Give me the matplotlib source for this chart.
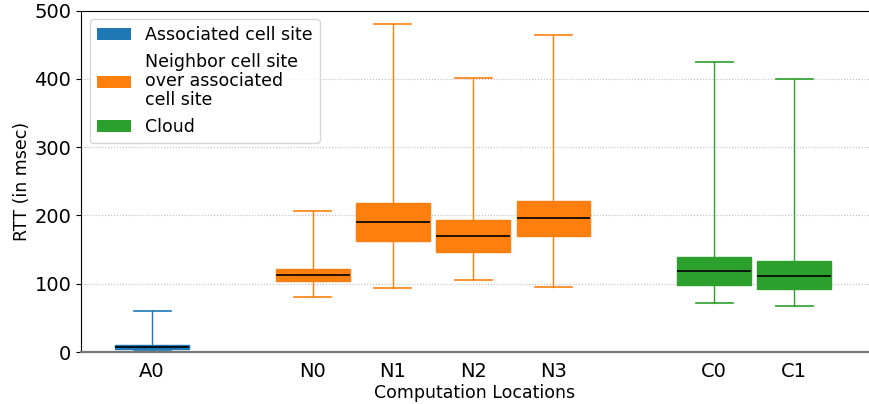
import matplotlib
matplotlib.use("Agg")
import matplotlib.pyplot as plt
from matplotlib.patches import Patch

# Computation locations and their RTT distribution summaries (msec)
locations = ["A0", "N0", "N1", "N2", "N3", "C0", "C1"]
groups = ["A", "N", "N", "N", "N", "C", "C"]
positions = [0, 2, 3, 4, 5, 7, 8]
whisker_low = [3, 81, 94, 105, 95, 72, 67]
q1 = [4.5, 104.5, 162.5, 147, 170, 98.5, 92]
median = [7.8, 112.7, 190, 170, 196, 118, 111.7]
q3 = [9.8, 121.5, 218.5, 193, 221.5, 139, 132.8]
whisker_high = [60, 207, 480, 401, 465, 424.5, 400]

group_colors = {"A": "#1f77b4", "N": "#ff7f0e", "C": "#2ca02c"}
group_labels = {
    "A": "Associated cell site",
    "N": "Neighbor cell site\nover associated\ncell site",
    "C": "Cloud",
}

fig = plt.figure(figsize=(8.69, 4.04), dpi=100)
ax = fig.add_axes([0.0932, 0.1287, 0.9068, 0.845])

stats = []
for i, name in enumerate(locations):
    stats.append(dict(label=name, whislo=whisker_low[i], q1=q1[i], med=median[i],
                      q3=q3[i], whishi=whisker_high[i]))

for i, s in enumerate(stats):
    c = group_colors[groups[i]]
    ax.bxp([s], positions=[positions[i]], widths=0.92, patch_artist=True,
           showfliers=False,
           boxprops=dict(facecolor=c, edgecolor=c, linewidth=1),
           whiskerprops=dict(color=c, linewidth=1),
           capprops=dict(color=c, linewidth=1.2),
           medianprops=dict(color="black", linewidth=1.2),
           capwidths=0.46)

ax.set_xlim(-0.885, 8.93)
ax.set_ylim(0, 500)
ax.set_xticks(positions)
ax.set_xticklabels(locations)
ax.set_yticks([0, 100, 200, 300, 400, 500])
ax.tick_params(axis="x", length=0, labelsize=14, pad=7)
ax.tick_params(axis="y", labelsize=14)
ax.yaxis.grid(True, linestyle=":", color="#c0c0c0", linewidth=0.8)
ax.set_axisbelow(True)
ax.spines["right"].set_visible(False)
ax.spines["bottom"].set_color("#777777")
ax.spines["bottom"].set_linewidth(1.6)

ax.set_ylabel("RTT (in msec)", fontsize=12.5, labelpad=2.5)
ax.set_xlabel("Computation Locations", fontsize=12.5, labelpad=2)

handles = [Patch(facecolor=group_colors[g], label=group_labels[g]) for g in ["A", "N", "C"]]
leg = ax.legend(handles=handles, loc="upper left", fontsize=12.5)
for t in leg.get_texts():
    t.set_linespacing(1.08)

fig.savefig("out.png", dpi=100)
